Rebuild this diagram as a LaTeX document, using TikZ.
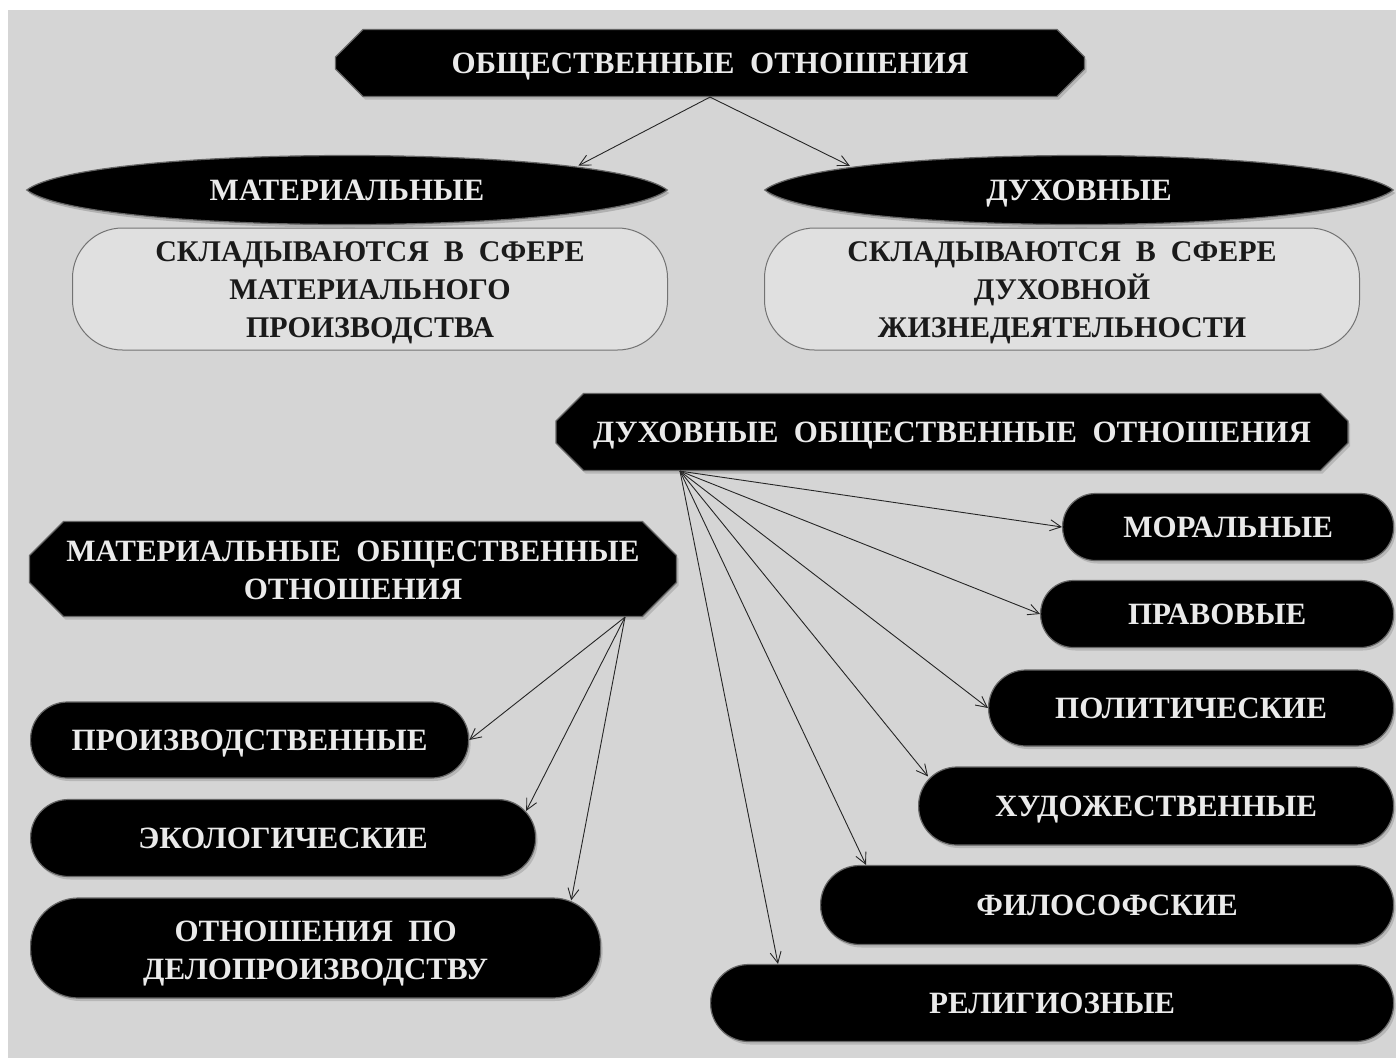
\documentclass[tikz,border=0pt]{standalone}
\usepackage{fontspec}
\setmainfont{Liberation Serif}
\usetikzlibrary{shapes.misc,shapes.geometric,arrows.meta,shadows,backgrounds}

\definecolor{pagegray}{RGB}{213,213,213}
\definecolor{paleface}{RGB}{224,224,224}
\definecolor{chalk}{RGB}{234,234,234}
\definecolor{ink}{RGB}{26,26,26}

\tikzset{
	base/.style={font=\fontsize{31}{38}\selectfont\bfseries, align=center, inner sep=0pt},
	oneline/.style={text height=21pt, text depth=0pt},
	banner/.style={base, chamfered rectangle, chamfered rectangle sep=17pt, fill=black, draw=black!60, line width=1.2pt, text=chalk,
		drop shadow={shadow xshift=2pt, shadow yshift=-3pt, opacity=0.35}},
	pill/.style={base, rectangle, fill=black, draw=black!60, line width=1.2pt, text=chalk,
		drop shadow={shadow xshift=2pt, shadow yshift=-3pt, opacity=0.35}},
	pale/.style={base, font=\fontsize{30}{38}\selectfont\bfseries, rectangle, rounded corners=50pt, fill=paleface, draw=black!55, line width=1pt, text=ink,
		minimum width=595pt, minimum height=122pt, text height=97pt, text depth=0pt},
	lens/.style={base, oneline, ellipse, text=chalk, minimum height=70pt},
	arr/.style={-{Straight Barb[length=11pt,width=11pt]}, line width=0.9pt, black!85}
}

\begin{document}
\begin{tikzpicture}[x=1pt,y=-1pt]
	\useasboundingbox (0,0) rectangle (1396,1058);

	% top level
	\node[banner, oneline, minimum width=749pt, minimum height=67pt] (top) at (710,63) {ОБЩЕСТВЕННЫЕ\ \ ОТНОШЕНИЯ};
	\node[lens, minimum width=640pt] (mat) at (347,190) {МАТЕРИАЛЬНЫЕ};
	\node[lens, minimum width=628pt] (duh) at (1079,190) {ДУХОВНЫЕ};
	\node[pale] (sfm) at (370,289) {СКЛАДЫВАЮТСЯ\ \ В\ \ СФЕРЕ\\МАТЕРИАЛЬНОГО\\ПРОИЗВОДСТВА};
	\node[pale] (sfd) at (1062,289) {СКЛАДЫВАЮТСЯ\ \ В\ \ СФЕРЕ\\ДУХОВНОЙ\\ЖИЗНЕДЕЯТЕЛЬНОСТИ};

	\draw[arr] (top.south) -- (mat.6);
	\draw[arr] (top.south) -- (duh.174);

	% two groups
	\node[banner, oneline, minimum width=792pt, minimum height=77pt] (dob) at (952,432) {ДУХОВНЫЕ\ \ ОБЩЕСТВЕННЫЕ\ \ ОТНОШЕНИЯ};
	\node[banner, text height=61pt, text depth=0pt, minimum width=647pt, minimum height=88pt] (mob) at (353,569) {МАТЕРИАЛЬНЫЕ\ \ ОБЩЕСТВЕННЫЕ\\ОТНОШЕНИЯ};
	\coordinate (dsrc) at ([xshift=-272pt]dob.south);
	\coordinate (msrc) at ([xshift=272pt]mob.south);

	\foreach \nm/\xl/\yc/\hh/\txt in {mor/1062/527/67/МОРАЛЬНЫЕ, prav/1040/614/67/ПРАВОВЫЕ,
		pol/988/708/76/ПОЛИТИЧЕСКИЕ, hud/918/806/78/ХУДОЖЕСТВЕННЫЕ,
		fil/820/905/79/ФИЛОСОФСКИЕ, rel/710/1003/77/РЕЛИГИОЗНЫЕ} {
		\pgfmathsetmacro{\bw}{1393-\xl}
		\pgfmathsetmacro{\rr}{\hh/2-0.5}
		\node[pill, oneline, anchor=west, rounded corners=\rr pt, minimum width=\bw pt, minimum height=\hh pt] (\nm) at (\xl,\yc) {\txt};
	}

	\node[pill, oneline, anchor=west, rounded corners=37pt, minimum width=438pt, minimum height=76pt] (proizv) at (30,740) {ПРОИЗВОДСТВЕННЫЕ};
	\node[pill, oneline, anchor=west, rounded corners=38pt, minimum width=505pt, minimum height=77pt] (eko) at (30,838) {ЭКОЛОГИЧЕСКИЕ};
	\node[pill, anchor=west, text height=63pt, text depth=0pt, rounded corners=48pt, minimum width=570pt, minimum height=100pt] (otn) at (30,948) {ОТНОШЕНИЯ\ \ ПО\\ДЕЛОПРОИЗВОДСТВУ};

	\draw[arr] (dsrc) -- (mor.west);
	\draw[arr] (dsrc) -- (prav.west);
	\draw[arr] (dsrc) -- (pol.west);
	\draw[arr] (dsrc) -- ([xshift=10pt,yshift=-10pt]hud.north west);
	\draw[arr] (dsrc) -- ([xshift=46pt]fil.north west);
	\draw[arr] (dsrc) -- ([xshift=68pt]rel.north west);

	\draw[arr] (msrc) -- (proizv.east);
	\draw[arr] (msrc) -- ([xshift=-10pt,yshift=-12pt]eko.north east);
	\draw[arr] (msrc) -- ([xshift=-30pt,yshift=-3pt]otn.north east);

	% page and lens shapes behind
	\begin{scope}[on background layer]
		\fill[white] (0,0) rectangle (1396,1058);
		\fill[pagegray] (8,10) rectangle (1396,1058);
		\foreach \ln in {mat,duh} {
			\fill[black!45, opacity=0.5] ([shift={(2pt,-3pt)}]\ln.west) .. controls ([shift={(62pt,43pt)}]\ln.west) and ([shift={(-58pt,43pt)}]\ln.east) .. ([shift={(2pt,-3pt)}]\ln.east)
				.. controls ([shift={(-58pt,-49pt)}]\ln.east) and ([shift={(62pt,-49pt)}]\ln.west) .. cycle;
			\filldraw[fill=black, draw=black!60, line width=1.2pt] (\ln.west) .. controls ([shift={(60pt,46pt)}]\ln.west) and ([shift={(-60pt,46pt)}]\ln.east) .. (\ln.east)
				.. controls ([shift={(-60pt,-46pt)}]\ln.east) and ([shift={(60pt,-46pt)}]\ln.west) .. cycle;
		}
	\end{scope}
\end{tikzpicture}
\end{document}
